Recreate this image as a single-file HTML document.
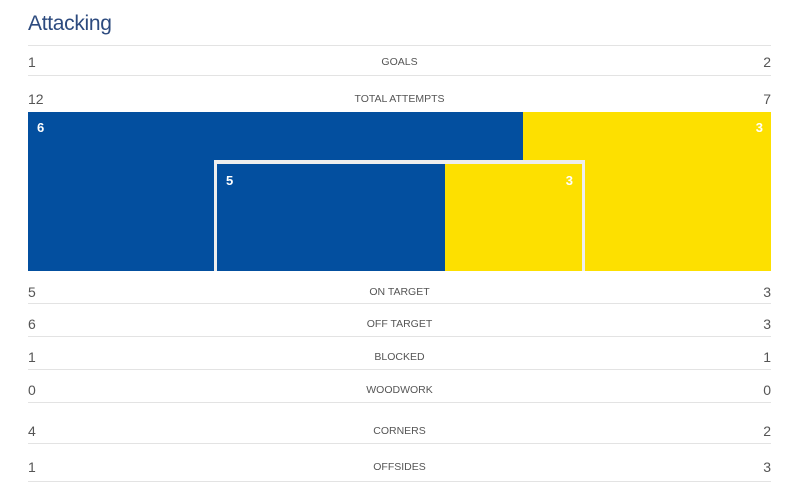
<!DOCTYPE html>
<html><head><meta charset="utf-8">
<style>
body{margin:0;background:#fff;width:804px;height:495px;overflow:hidden;position:relative;font-family:"Liberation Sans",sans-serif}
.t{position:absolute;left:28px;top:12px;font-size:21px;color:#2c4a7e;letter-spacing:-0.3px}
.ln{position:absolute;left:28px;width:743px;height:1px;background:#e3e3e3}
.nl,.nr,.lb{position:absolute;color:#555;white-space:nowrap}
.nl{left:28px;font-size:14px}
.nr{right:33px;font-size:14px;text-align:right}
.lb{left:28px;width:743px;text-align:center;font-size:10.5px;color:#555}
.bar{position:absolute}
.bv{position:absolute;color:#fff;font-weight:bold;font-size:13px}
</style></head><body>
<div class="t">Attacking</div>
<div id="rows"></div>
<div id="chart"></div>
<script>
const labels=["GOALS","TOTAL ATTEMPTS","ON TARGET","OFF TARGET","BLOCKED","WOODWORK","CORNERS","OFFSIDES"];
const homeVals=[1,12,5,6,1,0,4,1];
const awayVals=[2,7,3,3,1,0,2,3];
const offHome=6, offAway=3, onHome=5, onAway=3;
const textY=[54,91,284,316,349,382,423,459];
const lineY=[45,75,303,336,369,402,443,481];
const rows=document.getElementById('rows');
lineY.forEach((y,i)=>{const d=document.createElement('div');d.className='ln';d.style.top=y+'px';


rows.appendChild(d);});
labels.forEach((l,i)=>{
 const a=document.createElement('div');a.className='nl';a.style.top=textY[i]+'px';a.textContent=homeVals[i];
 
 
 const b=document.createElement('div');b.className='lb';b.style.top=(textY[i]+2)+'px';b.textContent=l;
 
 
 const c=document.createElement('div');c.className='nr';c.style.top=textY[i]+'px';c.textContent=awayVals[i];
 
 
 rows.append(a,b,c);
});
const ch=document.getElementById('chart');
function box(x,y,w,h,col,name){const d=document.createElement('div');d.className='bar';
 Object.assign(d.style,{left:x+'px',top:y+'px',width:w+'px',height:h+'px',background:col});
 
 
 ch.appendChild(d);return d;}
function val(x,y,t,right,name){const d=document.createElement('div');d.className='bv';d.textContent=t;
 d.style.top=y+'px';if(right){d.style.right=(804-x)+'px';}else d.style.left=x+'px';
 
 
 ch.appendChild(d);}
const X0=28,W=743,Y0=112,H=159;
const offTot=offHome+offAway;
const bw=W*offHome/offTot;
box(X0,Y0,bw,H,'#034f9f','home-total-bar');
box(X0+bw,Y0,W-bw,H,'#fde000','away-total-bar');
val(X0+9,Y0+8,offHome,false,'home-total-value');
val(X0+W-8,Y0+8,offAway,true,'away-total-value');
// goal frame
const fx=214,fy=160,fw=371,fh=111,bd=3;
box(fx,fy,fw,fh,'#eeeeee','goal-frame');
const ix=fx+bd,iw=fw-2*bd,iy=fy+bd+1,ih=fh-bd-1;
const onTot=onHome+onAway;
const ow=iw*onHome/onTot;
box(ix,iy,ow,ih,'#034f9f','home-on-target-bar');
box(ix+ow,iy,iw-ow,ih,'#fde000','away-on-target-bar');
val(ix+9,iy+9,onHome,false,'home-on-target-value');
val(ix+iw-9,iy+9,onAway,true,'away-on-target-value');
</script>
</body></html>
